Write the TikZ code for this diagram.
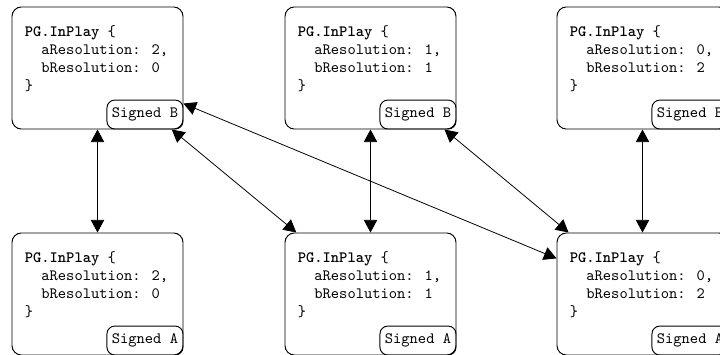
\documentclass[tikz,border=0pt]{standalone}
\usetikzlibrary{arrows.meta}
\begin{document}
\begin{tikzpicture}[x=0.635pt,y=-0.635pt,
  state/.style={draw, line width=0.6pt, rounded corners=6pt,
    minimum width=108.6pt, minimum height=77.5pt, inner sep=0pt},
  code/.style={anchor=north west, inner sep=0pt, align=left,
    font=\ttfamily\fontsize{10}{11.24}\selectfont},
  tag/.style={draw, line width=0.6pt, rounded corners=5pt, anchor=south east,
    minimum width=48.3pt, minimum height=18.4pt, inner sep=0pt,
    font=\ttfamily\fontsize{10}{12}\selectfont},
  link/.style={>={Triangle[length=8pt,width=8.5pt]}, <->, line width=0.5pt}]
\path[use as bounding box] (0,0) rectangle (720,355);
\clip (0,0) rectangle (720,355);

% signed by B (top row)
\node[state] (b20) at (97.5,68) {};
\node[state] (b11) at (370.5,68) {};
\node[state] (b02) at (642.5,68) {};
% signed by A (bottom row)
\node[state] (a20) at (97.5,294) {};
\node[state] (a11) at (370.5,294) {};
\node[state] (a02) at (642.5,294) {};

% record contents
\node[code] (b20txt) at ([xshift=8.3pt,yshift=-12.2pt]b20.north west)
  {\textbf{PG.InPlay} \{\\\ \ aResolution: 2,\\\ \ bResolution: 0\\\}};
\node[code] (b11txt) at ([xshift=8.3pt,yshift=-12.2pt]b11.north west)
  {\textbf{PG.InPlay} \{\\\ \ aResolution: 1,\\\ \ bResolution: 1\\\}};
\node[code] (b02txt) at ([xshift=8.3pt,yshift=-12.2pt]b02.north west)
  {\textbf{PG.InPlay} \{\\\ \ aResolution: 0,\\\ \ bResolution: 2\\\}};
\node[code] (a20txt) at ([xshift=8.3pt,yshift=-12.2pt]a20.north west)
  {\textbf{PG.InPlay} \{\\\ \ aResolution: 2,\\\ \ bResolution: 0\\\}};
\node[code] (a11txt) at ([xshift=8.3pt,yshift=-12.2pt]a11.north west)
  {\textbf{PG.InPlay} \{\\\ \ aResolution: 1,\\\ \ bResolution: 1\\\}};
\node[code] (a02txt) at ([xshift=8.3pt,yshift=-12.2pt]a02.north west)
  {\textbf{PG.InPlay} \{\\\ \ aResolution: 0,\\\ \ bResolution: 2\\\}};

% signature tags
\node[tag] (b20tag) at (b20.south east) {Signed B};
\node[tag] (b11tag) at (b11.south east) {Signed B};
\node[tag] (b02tag) at (b02.south east) {Signed B};
\node[tag] (a20tag) at (a20.south east) {Signed A};
\node[tag] (a11tag) at (a11.south east) {Signed A};
\node[tag] (a02tag) at (a02.south east) {Signed A};

% transitions
\draw[link] (b20) -- (a20);
\draw[link] (b11) -- (a11);
\draw[link] (b02) -- (a02);
\draw[link] (b20) -- (a11);
\draw[link] (b20) -- (a02);
\draw[link] (b11) -- (a02);
\end{tikzpicture}
\end{document}
